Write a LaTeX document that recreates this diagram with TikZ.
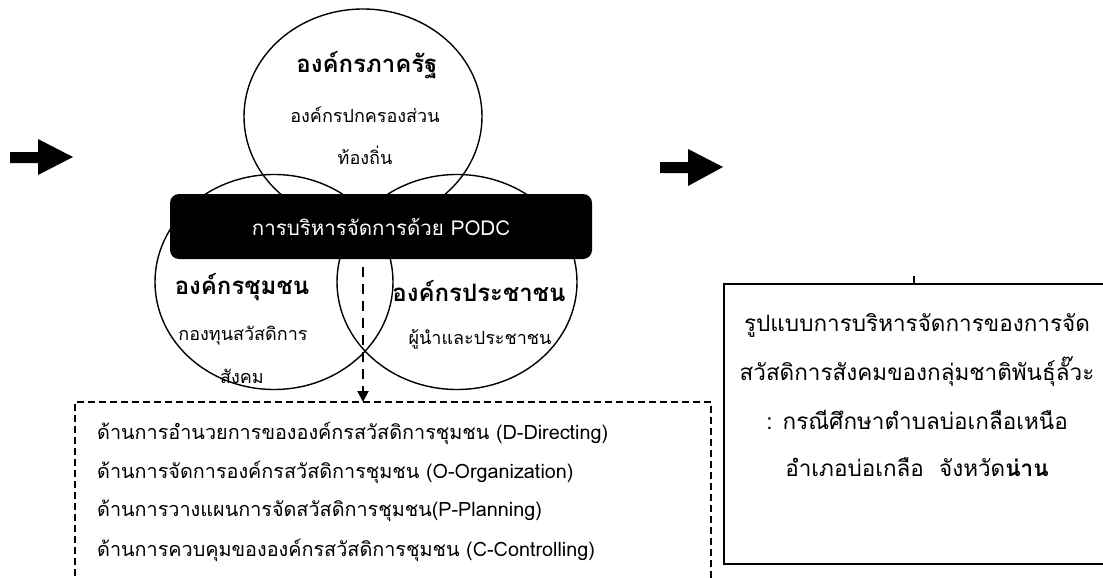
\documentclass[tikz,border=0pt]{standalone}
\usepackage{fontspec}
\setmainfont[Script=Thai]{Loma}
\usetikzlibrary{shapes.geometric,arrows.meta}
\begin{document}
\begin{tikzpicture}[x=1pt,y=-1pt,
  circ/.style={draw,line width=1.4pt,ellipse,inner sep=0pt},
  ttl/.style={font=\fontsize{24}{28}\selectfont\bfseries,inner sep=0pt},
  txt/.style={font=\fontsize{18}{22}\selectfont,inner sep=0pt},
  ltxt/.style={font=\fontsize{19.8}{24}\selectfont,inner sep=0pt,anchor=west},
  rtxt/.style={font=\fontsize{22.5}{26}\selectfont,inner sep=0pt},
  blockarrow/.style={fill=black},
  dbox/.style={draw,line width=1.2pt,dash pattern=on 7pt off 4pt},
]
\useasboundingbox (0,0) rectangle (1103,578);
\clip (0,0) rectangle (1103,578);
% block arrows
\fill[blockarrow] (10,152) -- (38,152) -- (38,139) -- (73,157) -- (38,175) -- (38,163) -- (10,163) -- cycle;
\fill[blockarrow] (660,162) -- (688,162) -- (688,149) -- (723,167) -- (688,186) -- (688,173) -- (660,173) -- cycle;
% circles
\node[circ,minimum width=238pt,minimum height=215pt] (topc) at (363,116.5) {};
\node[circ,minimum width=238pt,minimum height=215pt] (leftc) at (274,282) {};
\node[circ,minimum width=240pt,minimum height=215pt] (rightc) at (457,282) {};
% circle texts
\node[ttl] (t1) at (367,65) {องค์กรภาครัฐ};
\node[txt] (t1a) at (365,115) {องค์กรปกครองส่วน};
\node[txt] (t1b) at (365,155) {ท้องถิ่น};
\node[ttl] (t2) at (242,287) {องค์กรชุมชน};
\node[txt] (t2a) at (243,336) {กองทุนสวัสดิการ};
\node[txt] (t2b) at (242,376) {สังคม};
\node[ttl] (t3) at (479,291) {องค์กรประชาชน};
\node[txt] (t3a) at (480,339) {ผู้นำและประชาชน};
% black box
\node[fill=black,rounded corners=9pt,minimum width=422pt,minimum height=65pt,inner sep=0pt,
  text=white,font=\fontsize{20.5}{24}\selectfont] (podc) at (381,226.5) {การบริหารจัดการด้วย PODC};
% dashed box
\draw[dbox] (75,620) -- (75,402) coordinate (dtl) -- (711,402) coordinate (dtr) -- (711,620);
\coordinate (dtop) at (363,402);
\node[ltxt] (l1) at (97,433) {ด้านการอำนวยการขององค์กรสวัสดิการชุมชน  (D-Directing)};
\node[ltxt] (l2) at (97,472) {ด้านการจัดการองค์กรสวัสดิการชุมชน (O-Organization)};
\node[ltxt] (l3) at (97,511) {ด้านการวางแผนการจัดสวัสดิการชุมชน(P-Planning)};
\node[ltxt] (l4) at (97,550) {ด้านการควบคุมขององค์กรสวัสดิการชุมชน (C-Controlling)};
% dashed arrow
\coordinate (astart) at (363,267);
\draw[line width=2pt,dash pattern=on 10pt off 7pt,-{Triangle[length=11pt,width=11pt]}] (astart) -- (dtop);
% right box
\draw[line width=1.6pt] (1110,284) -- (724,284) coordinate (rtl) -- (724,564) -- (1110,564);
\coordinate (tick) at (914,276);
\draw[line width=1.6pt] (tick) -- (914,284);
\node[rtxt] (r1) at (917,325) {รูปแบบการบริหารจัดการของการจัด};
\node[rtxt] (r2) at (917,372) {สวัสดิการสังคมของกลุ่มชาติพันธุ์ลั๊วะ};
\node[rtxt] (r3) at (917,420) {: กรณีศึกษาตำบลบ่อเกลือเหนือ};
\node[rtxt] (r4) at (917,467) {อำเภอบ่อเกลือ\ \ จังหวัด\textbf{น่าน}};
\end{tikzpicture}
\end{document}
